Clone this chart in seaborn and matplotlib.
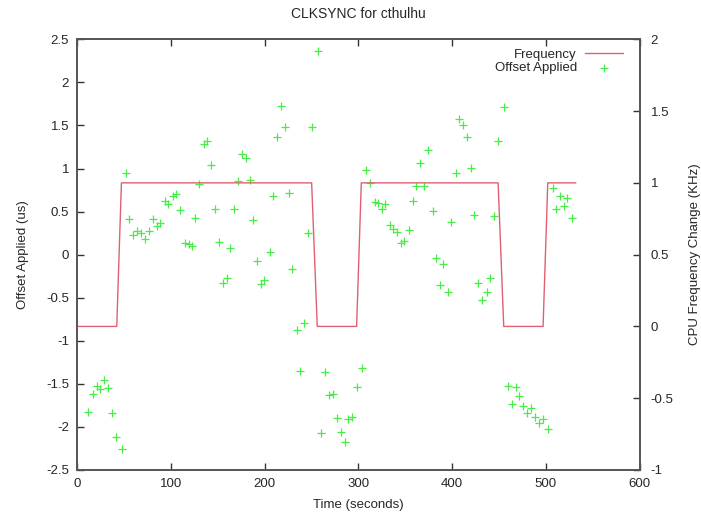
import matplotlib
matplotlib.use("Agg")
import matplotlib.pyplot as plt
import seaborn as sns
import pandas as pd
from matplotlib.ticker import FormatStrFormatter

sns.set_style("white")
plt.rcParams['font.family'] = ['Liberation Sans', 'DejaVu Sans']

# Frequency change (KHz) vs time
freq_time = [0, 42, 47, 250, 256, 298, 303, 449, 455, 497, 502, 532]
freq_khz = [0, 0, 1, 1, 0, 0, 1, 1, 0, 0, 1, 1]

# Offset applied (us) vs time
off_time = [11.6, 16.6, 20.6, 24.4, 28.7, 33.0, 37.2, 41.5, 47.9, 51.5,
            54.7, 59.7, 63.3, 67.5, 71.8, 76.1, 80.4, 84.6, 88.5, 93.5,
            96.7, 101.7, 105.2, 109.8, 114.8, 118.7, 122.0, 125.5, 129.8, 134.8,
            138.7, 142.6, 146.9, 151.1, 154.9, 159.2, 162.9, 167.5, 171.8, 175.7,
            179.6, 183.9, 187.7, 192.0, 196.3, 199.5, 205.2, 208.4, 213.0, 217.3,
            221.2, 225.5, 229.0, 234.0, 237.6, 241.8, 246.4, 250.0, 256.4, 260.3,
            264.6, 268.9, 272.5, 277.4, 281.3, 285.6, 288.8, 293.0, 298.1, 304.1,
            307.7, 312.0, 317.3, 320.5, 325.1, 328.3, 333.3, 337.1, 341.1, 344.9,
            348.8, 353.5, 357.8, 361.4, 366.0, 369.6, 373.8, 379.2, 382.7, 387.0,
            390.6, 395.2, 399.1, 403.7, 407.3, 411.2, 415.5, 419.7, 423.7, 427.9,
            432.1, 436.8, 440.3, 444.3, 448.6, 455.0, 459.2, 463.5, 467.8, 471.3,
            475.9, 480.2, 484.1, 488.4, 493.0, 497.3, 502.6, 507.2, 510.8, 515.0,
            519.3, 522.8, 527.9]
off_us = [-1.83, -1.62, -1.53, -1.56, -1.45, -1.55, -1.84, -2.12, -2.26, 0.95,
          0.41, 0.23, 0.27, 0.25, 0.18, 0.27, 0.41, 0.33, 0.37, 0.62,
          0.59, 0.68, 0.70, 0.52, 0.13, 0.12, 0.10, 0.42, 0.82, 1.28,
          1.32, 1.04, 0.53, 0.15, -0.33, -0.27, 0.08, 0.53, 0.85, 1.17,
          1.12, 0.87, 0.40, -0.07, -0.34, -0.30, 0.03, 0.68, 1.36, 1.73,
          1.48, 0.71, -0.17, -0.87, -1.35, -0.79, 0.25, 1.48, 2.36, -2.07,
          -1.36, -1.63, -1.62, -1.90, -2.06, -2.17, -1.91, -1.88, -1.54, -1.32,
          0.98, 0.83, 0.61, 0.60, 0.53, 0.59, 0.34, 0.30, 0.26, 0.14,
          0.16, 0.29, 0.62, 0.80, 1.06, 0.80, 1.22, 0.51, -0.04, -0.35,
          -0.11, -0.43, 0.38, 0.95, 1.57, 1.50, 1.37, 1.01, 0.46, -0.33,
          -0.53, -0.43, -0.27, 0.45, 1.32, 1.71, -1.53, -1.73, -1.54, -1.64,
          -1.76, -1.84, -1.78, -1.89, -1.95, -1.91, -2.02, 0.77, 0.53, 0.68,
          0.56, 0.66, 0.42]

x_ticks = [0, 100, 200, 300, 400, 500, 600]
y_ticks = [-2.5, -2, -1.5, -1, -0.5, 0, 0.5, 1, 1.5, 2, 2.5]
y2_ticks = [-1, -0.5, 0, 0.5, 1, 1.5, 2]

freq_df = pd.DataFrame({"time": freq_time, "freq": freq_khz})
off_df = pd.DataFrame({"time": off_time, "offset": off_us})

fig = plt.figure(figsize=(7.01, 5.15), dpi=100)
ax = fig.add_axes([0.1104, 0.0874, 0.9124 - 0.1104, 0.9237 - 0.0874])
ax2 = ax.twinx()

red = '#e06070'
green = '#44ee44'

sns.scatterplot(data=off_df, x="time", y="offset", ax=ax, marker='+',
                color=green, s=26, linewidth=0.9, label="Offset Applied",
                legend=False)
sns.lineplot(data=freq_df, x="time", y="freq", ax=ax2, color=red,
             linewidth=1.0, label="Frequency", legend=False, sort=False)

ax.set_xlim(0, 600)
ax.set_ylim(-2.5, 2.5)
ax2.set_ylim(-1, 2)
ax.set_xticks(x_ticks)
ax.set_yticks(y_ticks)
ax2.set_yticks(y2_ticks)
ax.yaxis.set_major_formatter(FormatStrFormatter('%g'))
ax2.yaxis.set_major_formatter(FormatStrFormatter('%g'))

tick_col = '#333333'
ax.tick_params(axis='x', direction='in', length=5, width=1, top=True,
               bottom=True, color=tick_col, labelsize=9.5, pad=6)
ax.tick_params(axis='y', direction='in', length=5, width=1, left=True,
               right=False, color=tick_col, labelsize=9.5, pad=6)
ax2.tick_params(axis='y', direction='in', length=5, width=1, right=True,
                left=False, color=tick_col, labelsize=9.5, pad=8)

for a in (ax, ax2):
    for s in a.spines.values():
        s.set_color('#555555')
        s.set_linewidth(1.2)
        s.set_visible(True)

ax.set_xlabel("Time (seconds)", fontsize=9.5, labelpad=6)
ax.set_ylabel("Offset Applied (us)", fontsize=9.5, labelpad=12)
ax2.set_ylabel("CPU Frequency Change (KHz)", fontsize=9.5, labelpad=11,
               rotation=90)
ax.set_title("CLKSYNC for cthulhu", fontsize=10, pad=15)

h1, l1 = ax2.get_legend_handles_labels()
h2, l2 = ax.get_legend_handles_labels()
leg = ax2.legend(h1 + h2, l1 + l2, loc='upper right', frameon=False,
                 markerfirst=False, fontsize=9.5, handlelength=2.9,
                 handletextpad=0.6, labelspacing=0.1,
                 bbox_to_anchor=(0.987, 1.0), borderaxespad=0.3)

fig.savefig("out.png", dpi=100)
